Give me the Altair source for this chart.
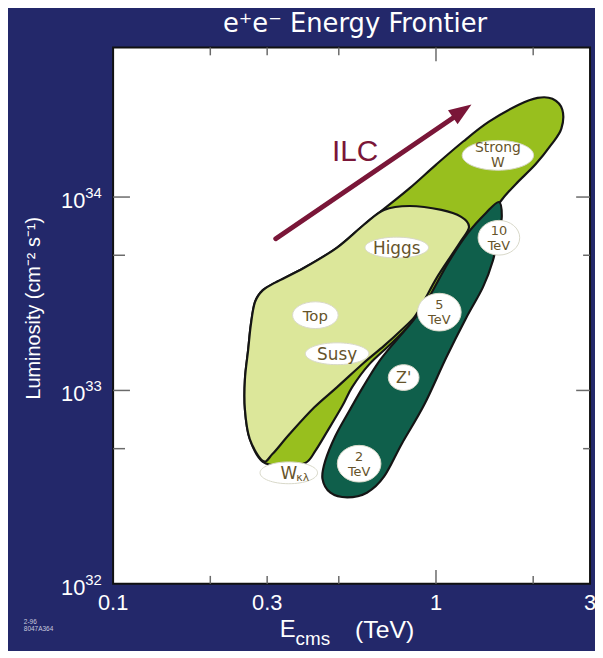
import altair as alt
import pandas as pd

# ---------------- data (E in TeV, L in cm^-2 s^-1) ----------------
# outer green envelope (medium green, includes Strong W region and thin strip)
mid_E = [0.291, 0.265, 0.256, 0.256, 0.262, 0.267, 0.275, 0.291, 0.319, 0.392,
         0.494, 0.598, 0.690, 0.829, 1.003, 1.214, 1.459, 1.804, 2.063, 2.294,
         2.462, 2.445, 2.278, 2.034, 1.766, 1.588, 1.379, 1.172, 1.003, 0.858,
         0.730, 0.620, 0.550, 0.512, 0.461, 0.423, 0.394, 0.340]
mid_L = [4.27e32, 5.61e32, 7.99e32, 1.14e33, 1.62e33, 2.18e33, 2.86e33, 3.30e33, 3.62e33, 4.32e33,
         5.48e33, 7.19e33, 8.68e33, 1.112e34, 1.476e34, 1.937e34, 2.453e34, 2.999e34, 3.257e34, 3.219e34,
         2.827e34, 2.258e34, 1.870e34, 1.476e34, 1.166e34, 9.54e33, 6.69e33, 4.59e33, 3.22e33, 2.31e33,
         1.76e33, 1.36e33, 1.04e33, 8.28e32, 6.16e32, 4.87e32, 4.22e32, 4.08e32]

# light green region (Higgs / Top / Susy)
light_E = [0.291, 0.265, 0.256, 0.256, 0.262, 0.267, 0.275, 0.291, 0.319, 0.392,
           0.494, 0.598, 0.690, 0.829, 1.039, 1.197, 1.266, 1.197, 1.115, 1.003,
           0.921, 0.858, 0.783, 0.690, 0.598, 0.494, 0.420, 0.352, 0.312]
light_L = [4.32e32, 5.61e32, 7.99e32, 1.14e33, 1.62e33, 2.18e33, 2.86e33, 3.30e33, 3.62e33, 4.32e33,
           5.48e33, 7.19e33, 8.58e33, 8.99e33, 8.58e33, 7.90e33, 7.02e33, 5.95e33, 4.98e33, 3.80e33,
           2.93e33, 2.40e33, 2.06e33, 1.70e33, 1.39e33, 1.04e33, 8.18e32, 5.95e32, 4.70e32]

# dark teal band (Z' reach 2 - 10 TeV)
teal_E = [1.566, 1.599, 1.566, 1.501, 1.398, 1.240, 1.076, 0.921, 0.783, 0.690,
          0.611, 0.531, 0.471, 0.445, 0.454, 0.488, 0.538, 0.594, 0.666, 0.756,
          0.852, 0.948, 1.092, 1.258, 1.428]
teal_L = [9.43e33, 7.99e33, 6.54e33, 4.70e33, 3.42e33, 2.37e33, 1.48e33, 8.48e32, 5.29e32, 3.58e32,
          2.96e32, 2.80e32, 2.96e32, 3.50e32, 4.32e32, 5.81e32, 7.80e32, 1.04e33, 1.41e33, 1.83e33,
          2.31e33, 3.00e33, 4.59e33, 6.54e33, 8.28e33]

# bubble labels
lab_text = ["Strong\nW", "Higgs", "10\nTeV", "Top", "Susy", "5\nTeV", "Z'", "2\nTeV", "W"]
lab_E = [1.555, 0.756, 1.566, 0.423, 0.494, 1.024, 0.794, 0.578, 0.350]
lab_L = [1.643e34, 5.48e33, 6.16e33, 2.45e33, 1.548e33, 2.54e33, 1.166e33, 4.18e32, 3.75e32]
# bubble widths / heights (px) and font sizes (style)
lab_w = [72, 64, 42, 46, 64, 44, 31, 44, 58]
lab_h = [30, 21, 35, 27, 22, 38, 26, 37, 22]
lab_fs = [14, 17, 13, 15, 17, 13, 16, 13, 17]
lab_lines = [2, 1, 2, 1, 1, 2, 1, 2, 1]

# ILC arrow
ilc_E = [0.319, 1.155]
ilc_L = [6.09e33, 2.633e34]
head_E = [1.205]
head_L = [2.787e34]
ilc_text_E = [0.562]
ilc_text_L = [1.701e34]

# axes
x_ticks_minor = [0.2, 0.3, 0.5, 2]
x_ticks_major = [1]
x_labels = [0.1, 0.3, 1, 3]
x_label_txt = ["0.1", "0.3", "1", "3"]
y_ticks_major = [1e34, 1e33]
y_ticks_minor = [5e33, 5e32]
y_labels = [1e32, 1e33, 1e34]
y_label_exp = ["32", "33", "34"]

W, H = 481, 541
NAVY = "#23286a"
FONT = "Liberation Sans"
LFONT = "DejaVu Sans"
LABC = "#66542a"

xs = alt.Scale(type="log", domain=[0.1, 3])
ys = alt.Scale(type="log", domain=[1e32, 5.94e34])


def X(f):
    return alt.X(f"{f}:Q", scale=xs, axis=None)


def Y(f):
    return alt.Y(f"{f}:Q", scale=ys, axis=None)


def poly(E, L, fill):
    df = pd.DataFrame({"E": E, "L": L, "i": list(range(len(E)))})
    return alt.Chart(df).mark_line(
        interpolate="cardinal-closed", fill=fill, stroke="#151515", strokeWidth=2.2
    ).encode(x=X("E"), y=Y("L"), order=alt.Order("i:Q"))


mid = poly(mid_E, mid_L, "#98bf1e")
light = poly(light_E, light_L, "#dce79a")
teal = poly(teal_E, teal_L, "#0f5f4b")


def ellipse_path(w, h):
    r = h / w
    k = 0.5523
    return (f"M -1 0 C -1 {-k*r:.4f} {-k:.4f} {-r:.4f} 0 {-r:.4f} "
            f"C {k:.4f} {-r:.4f} 1 {-k*r:.4f} 1 0 "
            f"C 1 {k*r:.4f} {k:.4f} {r:.4f} 0 {r:.4f} "
            f"C {-k:.4f} {r:.4f} -1 {k*r:.4f} -1 0 Z")


lab_df = pd.DataFrame({
    "t": lab_text, "E": lab_E, "L": lab_L,
    "shape": [ellipse_path(w, h) for w, h in zip(lab_w, lab_h)],
    "sz": [w * w for w in lab_w], "fs": lab_fs, "n": lab_lines,
})

bubbles = alt.Chart(lab_df).mark_point(
    filled=True, fill="white", stroke="#d8d8c8", strokeWidth=1, opacity=1
).encode(x=X("E"), y=Y("L"),
         shape=alt.Shape("shape:N", scale=None),
         size=alt.Size("sz:Q", scale=None))

lab_one = alt.Chart(lab_df).transform_filter("datum.n == 1").mark_text(
    font=LFONT, color=LABC, baseline="middle", align="center", dy=1
).encode(x=X("E"), y=Y("L"), text="t:N", size=alt.Size("fs:Q", scale=None))

lab_two = alt.Chart(lab_df).transform_filter("datum.n == 2").mark_text(
    font=LFONT, color=LABC, lineBreak="\n", lineHeight=15, baseline="middle", align="center", dy=-7
).encode(x=X("E"), y=Y("L"), text="t:N", size=alt.Size("fs:Q", scale=None))

wkl_sub = alt.Chart(pd.DataFrame({"E": [lab_E[-1]], "L": [lab_L[-1]], "t": ["κλ"]})).mark_text(
    font=LFONT, fontSize=11, color=LABC, dx=14, dy=5
).encode(x=X("E"), y=Y("L"), text="t:N")

# arrow
arrow = alt.Chart(pd.DataFrame({"E": ilc_E, "L": ilc_L, "i": [0, 1]})).mark_line(
    color="#7a1638", strokeWidth=5, strokeCap="round"
).encode(x=X("E"), y=Y("L"), order="i:Q")

head = alt.Chart(pd.DataFrame({"E": head_E, "L": head_L})).mark_point(
    shape="M 1 0 L -1 -0.75 L -1 0.75 Z", filled=True, fill="#7a1638", opacity=1,
    size=520, angle=325.6, strokeWidth=0
).encode(x=X("E"), y=Y("L"))

ilc = alt.Chart(pd.DataFrame({"E": ilc_text_E, "L": ilc_text_L, "t": ["ILC"]})).mark_text(
    font=FONT, fontSize=30, color="#7a1638", baseline="middle"
).encode(x=X("E"), y=Y("L"), text="t:N")

# ticks
TICK = "#6a6a6a"
bx_min = alt.Chart(pd.DataFrame({"E": x_ticks_minor})).mark_rule(color=TICK, strokeWidth=1.5).encode(
    x=X("E"), y=alt.value(H), y2=alt.value(H - 8))
bx_maj = alt.Chart(pd.DataFrame({"E": x_ticks_major})).mark_rule(color=TICK, strokeWidth=1.5).encode(
    x=X("E"), y=alt.value(H), y2=alt.value(H - 14))
tx_min = alt.Chart(pd.DataFrame({"E": x_ticks_minor})).mark_rule(color=TICK, strokeWidth=1.5).encode(
    x=X("E"), y=alt.value(0), y2=alt.value(8))
tx_maj = alt.Chart(pd.DataFrame({"E": x_ticks_major})).mark_rule(color=TICK, strokeWidth=1.5).encode(
    x=X("E"), y=alt.value(0), y2=alt.value(14))
ly_maj = alt.Chart(pd.DataFrame({"L": y_ticks_major})).mark_rule(color=TICK, strokeWidth=1.5).encode(
    y=Y("L"), x=alt.value(0), x2=alt.value(17))
ly_min = alt.Chart(pd.DataFrame({"L": y_ticks_minor})).mark_rule(color=TICK, strokeWidth=1.5).encode(
    y=Y("L"), x=alt.value(0), x2=alt.value(12))
ry_maj = alt.Chart(pd.DataFrame({"L": y_ticks_major})).mark_rule(color=TICK, strokeWidth=1.5).encode(
    y=Y("L"), x=alt.value(W), x2=alt.value(W - 14))
ry_min = alt.Chart(pd.DataFrame({"L": y_ticks_minor})).mark_rule(color=TICK, strokeWidth=1.5).encode(
    y=Y("L"), x=alt.value(W), x2=alt.value(W - 7))

# axis labels
xlab = alt.Chart(pd.DataFrame({"E": x_labels, "t": x_label_txt})).mark_text(
    font=FONT, fontSize=22, color="white", baseline="middle"
).encode(x=X("E"), y=alt.value(H + 19), text="t:N")

ylab10 = alt.Chart(pd.DataFrame({"L": y_labels, "t": ["10"] * 3})).mark_text(
    font=FONT, fontSize=22, color="white", align="right", baseline="middle", dy=4
).encode(y=Y("L"), x=alt.value(-28), text="t:N")
ylabexp = alt.Chart(pd.DataFrame({"L": y_labels, "t": y_label_exp})).mark_text(
    font=FONT, fontSize=15, color="white", align="left", baseline="middle", dy=-4
).encode(y=Y("L"), x=alt.value(-28), text="t:N")

# titles
title = alt.Chart(pd.DataFrame({"t": ["e⁺e⁻ Energy Frontier"]})).mark_text(
    font=LFONT, fontSize=26, color="white", baseline="alphabetic", align="center"
).encode(x=alt.value(244), y=alt.value(-16), text="t:N")

ytitle = alt.Chart(pd.DataFrame({"t": ["Luminosity  (cm⁻² s⁻¹)"]})).mark_text(
    font=FONT, fontSize=20, color="white", angle=270, baseline="middle", align="center"
).encode(x=alt.value(-80), y=alt.value(263), text="t:N")

xt_E = alt.Chart(pd.DataFrame({"t": ["E"]})).mark_text(
    font=FONT, fontSize=24, color="white", baseline="middle", align="left"
).encode(x=alt.value(168), y=alt.value(588), text="t:N")
xt_cms = alt.Chart(pd.DataFrame({"t": ["cms"]})).mark_text(
    font=FONT, fontSize=19, color="white", baseline="middle", align="left"
).encode(x=alt.value(184), y=alt.value(597), text="t:N")
xt_tev = alt.Chart(pd.DataFrame({"t": ["(TeV)"]})).mark_text(
    font=FONT, fontSize=25, color="white", baseline="middle", align="left"
).encode(x=alt.value(244), y=alt.value(588), text="t:N")

stamp1 = alt.Chart(pd.DataFrame({"t": ["2-96"]})).mark_text(
    font=FONT, fontSize=6.5, color="#c9cadf", align="left", baseline="middle"
).encode(x=alt.value(-90), y=alt.value(580), text="t:N")
stamp2 = alt.Chart(pd.DataFrame({"t": ["8047A364"]})).mark_text(
    font=FONT, fontSize=6.5, color="#c9cadf", align="left", baseline="middle"
).encode(x=alt.value(-90), y=alt.value(587), text="t:N")

chart = alt.layer(
    mid, light, teal, bubbles, lab_one, lab_two, wkl_sub, arrow, head, ilc,
    bx_min, bx_maj, tx_min, tx_maj, ly_maj, ly_min, ry_maj, ry_min,
    xlab, ylab10, ylabexp, title, ytitle, xt_E, xt_cms, xt_tev, stamp1, stamp2,
).properties(
    width=W, height=H,
    autosize=alt.AutoSizeParams(type="none"),
    padding={"left": 106, "top": 37, "right": 5, "bottom": 65},
    background=NAVY,
).configure_view(fill="white", stroke="#111111", strokeWidth=2)

chart.save("out.html", embed_options={"renderer": "svg", "actions": False})
